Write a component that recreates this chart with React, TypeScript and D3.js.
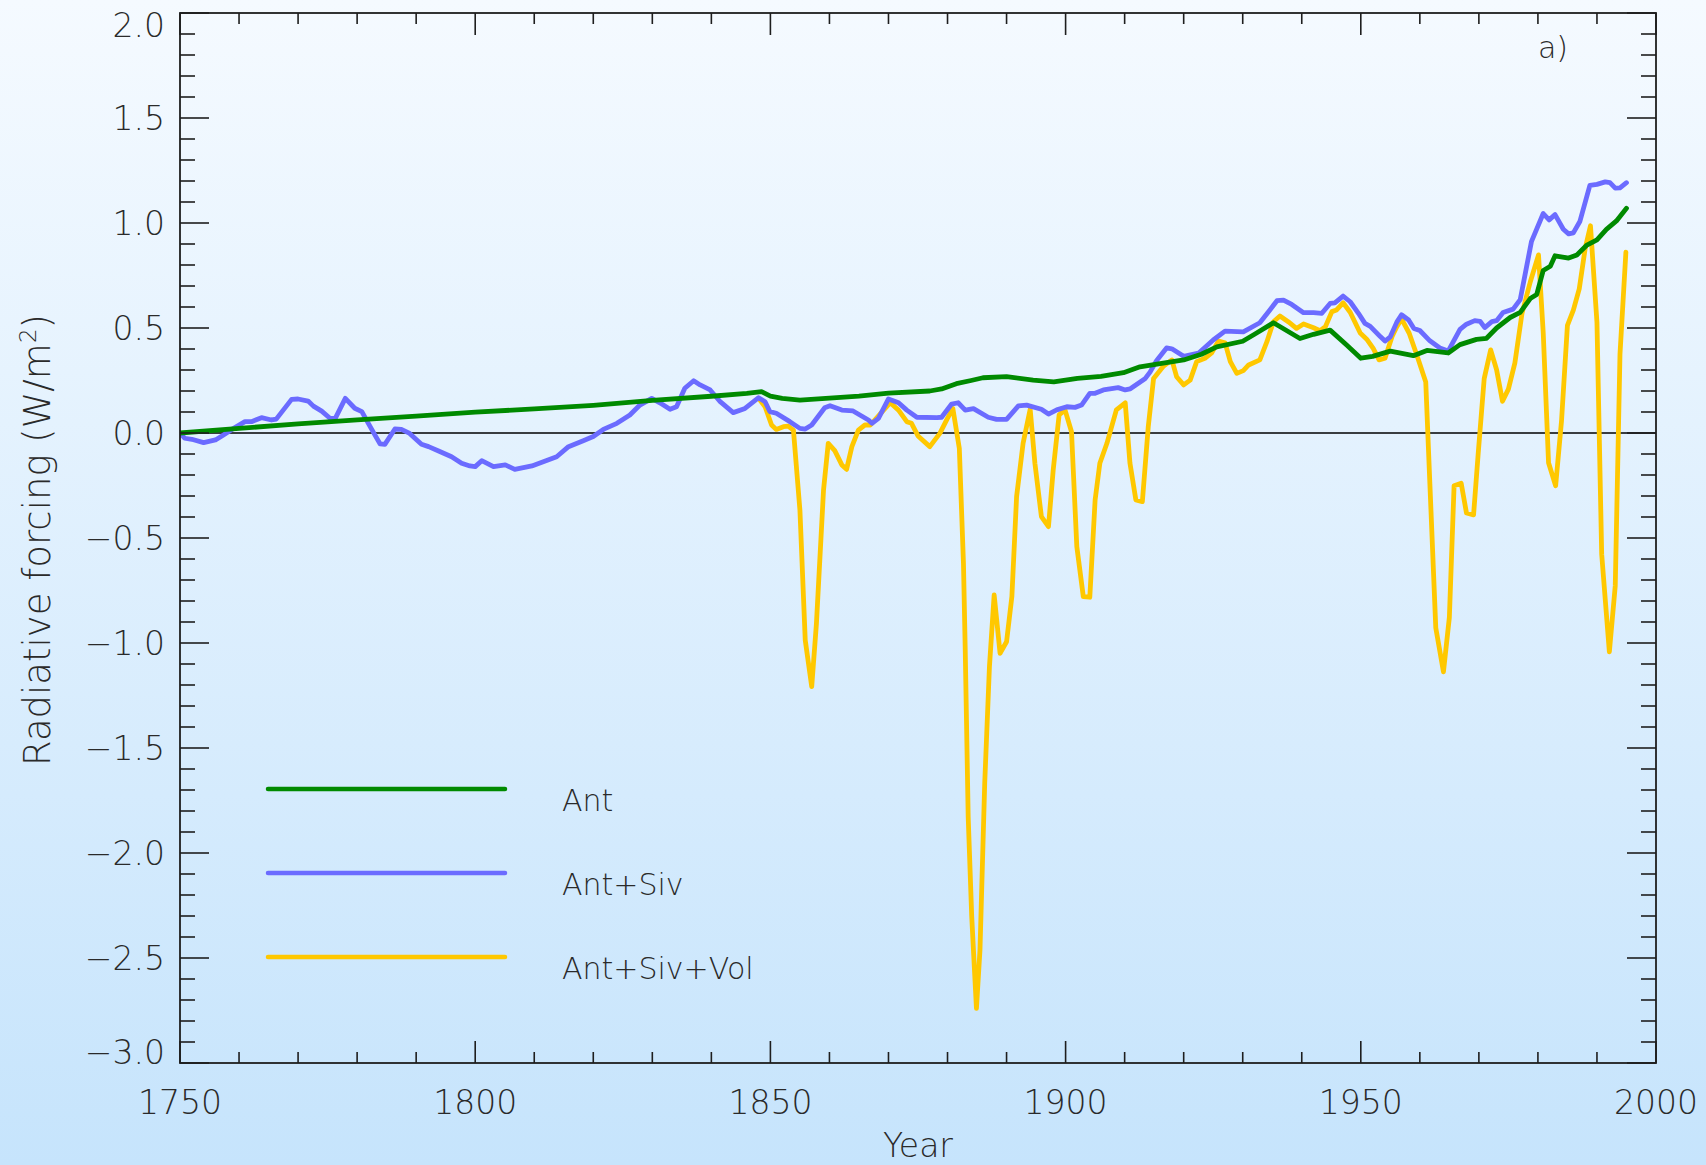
import React from "react";
import * as d3 from "d3";

// ---- Data ----
const antYears = [1750,1760,1770,1780,1790,1800,1810,1820,1830,1840,1846,1848.5,1850,1852,1855,1860,1865,1870,1877,1879,1881.5,1884,1886,1890,1894.5,1898,1902,1906,1909.8,1912.6,1916,1920,1923,1925.6,1930,1932,1935.2,1939.7,1942,1944.8,1947.6,1950,1952,1955,1958.9,1961.2,1964.8,1966.8,1969.6,1971.3,1973,1975.3,1977,1978.7,1979.8,1980.9,1982.1,1982.9,1985.2,1986.6,1988.3,1990,1991.6,1993.3,1995];
const antValues = [0.0,0.022,0.043,0.063,0.08,0.099,0.115,0.132,0.155,0.175,0.189,0.197,0.176,0.165,0.157,0.166,0.176,0.19,0.2,0.21,0.235,0.25,0.263,0.268,0.252,0.243,0.26,0.27,0.287,0.315,0.33,0.348,0.375,0.41,0.437,0.47,0.525,0.45,0.47,0.49,0.419,0.356,0.365,0.39,0.368,0.393,0.381,0.421,0.446,0.451,0.5,0.55,0.574,0.64,0.66,0.774,0.794,0.844,0.833,0.848,0.895,0.92,0.97,1.01,1.07];

const sivYears = [1750,1750.8,1752,1754,1756,1757.1,1758.8,1761,1762.1,1763.8,1765.5,1766.3,1768.9,1770,1771.7,1772.6,1774,1775.4,1776.3,1778,1779.6,1780.8,1781.9,1783,1783.9,1784.7,1786.4,1787.5,1788.9,1790.9,1792.1,1793.8,1796,1797.7,1799.1,1800,1801.1,1803.1,1805.1,1806.7,1809.6,1813.8,1815.8,1818.3,1820,1821.7,1824,1826.2,1827.9,1829.9,1831.6,1833,1834.1,1835.5,1837,1838.1,1839.8,1841.5,1843.7,1845.7,1848,1849.1,1849.9,1851,1853.3,1855,1855.9,1857,1859.2,1860.1,1862.1,1864,1866.6,1867.2,1868.3,1870,1871.7,1873.1,1874.8,1878.2,1879,1880.7,1881.8,1883,1884.4,1886.9,1888.3,1890,1892,1893.4,1895.9,1897.1,1898.5,1900.2,1901.6,1902.7,1904.1,1905,1906.4,1908.9,1910.1,1910.9,1913.5,1914.3,1915.4,1917.1,1918,1920,1922.5,1925,1927,1930.1,1932.9,1934.6,1935.8,1936.9,1938.3,1940.3,1942,1943.4,1944.8,1945.6,1947,1948.2,1949.6,1950.7,1951.6,1953.3,1954.1,1955,1956.1,1956.9,1958.1,1959,1960,1961.7,1963.4,1964.8,1966.8,1967.9,1969.3,1970.2,1971,1972.2,1973,1974.1,1975.8,1977,1978.9,1980.9,1981.9,1982.9,1984.3,1985.2,1986,1987.1,1988.8,1990,1991.4,1992.2,1993.1,1993.9,1995];
const sivValues = [0.0,-0.025,-0.03,-0.046,-0.033,-0.014,0.017,0.054,0.054,0.073,0.062,0.066,0.16,0.162,0.152,0.128,0.104,0.07,0.07,0.165,0.118,0.102,0.046,-0.009,-0.052,-0.054,0.019,0.017,-0.002,-0.054,-0.065,-0.086,-0.113,-0.144,-0.157,-0.16,-0.132,-0.16,-0.152,-0.173,-0.157,-0.113,-0.065,-0.037,-0.017,0.017,0.046,0.086,0.133,0.165,0.138,0.113,0.125,0.213,0.249,0.229,0.205,0.149,0.097,0.117,0.168,0.149,0.102,0.094,0.054,0.022,0.019,0.038,0.12,0.13,0.109,0.105,0.062,0.046,0.07,0.162,0.144,0.109,0.075,0.073,0.075,0.138,0.144,0.109,0.116,0.075,0.065,0.065,0.129,0.133,0.113,0.09,0.11,0.125,0.122,0.133,0.189,0.189,0.205,0.216,0.205,0.21,0.26,0.29,0.344,0.405,0.401,0.365,0.38,0.443,0.485,0.482,0.525,0.586,0.63,0.633,0.612,0.573,0.573,0.57,0.617,0.62,0.652,0.625,0.57,0.522,0.508,0.459,0.438,0.458,0.528,0.563,0.538,0.498,0.488,0.439,0.405,0.39,0.493,0.518,0.535,0.532,0.502,0.53,0.535,0.574,0.59,0.635,0.911,1.045,1.015,1.04,0.97,0.948,0.953,1.007,1.179,1.184,1.196,1.192,1.166,1.167,1.192];

const volYears = [1848,1849.1,1850.2,1851,1852.2,1853,1853.9,1855,1855.9,1857,1857.8,1859,1859.8,1860.9,1862.1,1862.9,1863.8,1864.9,1866,1866.9,1868.8,1870.3,1871.7,1873.1,1873.9,1875,1877,1878.7,1879.9,1880.9,1882,1882.7,1883,1883.5,1884.1,1884.9,1885.5,1886.3,1887.1,1887.9,1888.9,1890,1890.9,1891.7,1892.8,1894,1894.8,1895.9,1897.1,1897.9,1898.9,1899.9,1901,1901.9,1903,1904.1,1905,1905.8,1907,1908.6,1910.1,1910.9,1911.9,1913,1914,1914.9,1916.6,1918,1918.8,1920,1921.1,1922.2,1923.6,1924.7,1925.9,1927,1927.9,1929,1930.1,1931,1932.9,1934.1,1935.2,1936.3,1937.7,1939.1,1940.3,1942,1943.1,1944,1945.1,1945.9,1947,1948.2,1949.9,1951,1952.1,1953.1,1954.1,1955.3,1956.1,1956.9,1958.2,1959.5,1961,1961.7,1962.7,1964,1965,1965.8,1967,1967.9,1969.1,1969.9,1970.9,1972,1973,1974,1975,1976.1,1977.3,1978.7,1980.1,1980.9,1981.8,1983,1984,1985,1986,1987,1988,1988.9,1990,1990.8,1992.1,1993.1,1993.9,1994.9];
const volValues = [0.165,0.125,0.038,0.017,0.03,0.033,0.014,-0.367,-0.986,-1.208,-0.906,-0.271,-0.049,-0.084,-0.152,-0.173,-0.065,0.014,0.038,0.038,0.097,0.144,0.109,0.054,0.046,-0.014,-0.065,-0.002,0.065,0.117,-0.073,-0.621,-1.033,-1.827,-2.303,-2.74,-2.46,-1.668,-1.113,-0.771,-1.049,-0.994,-0.779,-0.303,-0.049,0.113,-0.144,-0.398,-0.446,-0.176,0.086,0.11,0.006,-0.541,-0.779,-0.782,-0.319,-0.144,-0.049,0.11,0.144,-0.144,-0.319,-0.327,0.03,0.26,0.319,0.348,0.268,0.229,0.252,0.34,0.356,0.38,0.438,0.43,0.34,0.284,0.297,0.324,0.348,0.435,0.53,0.557,0.53,0.498,0.519,0.501,0.487,0.506,0.578,0.586,0.62,0.575,0.476,0.447,0.403,0.348,0.356,0.46,0.506,0.543,0.475,0.37,0.243,-0.242,-0.928,-1.137,-0.878,-0.251,-0.239,-0.381,-0.39,-0.092,0.259,0.396,0.301,0.151,0.209,0.334,0.569,0.719,0.848,0.477,-0.142,-0.251,0.059,0.513,0.585,0.686,0.878,0.987,0.527,-0.577,-1.042,-0.727,0.376,0.861];

const seriesNames = ["Ant", "Ant+Siv", "Ant+Siv+Vol"];
const xMajorTicks = [1750, 1800, 1850, 1900, 1950, 2000];
const yMajorTicks = [2.0, 1.5, 1.0, 0.5, 0.0, -0.5, -1.0, -1.5, -2.0, -2.5, -3.0];

const W = 1706, H = 1165;
const L = 180, R = 1656, T = 13, B = 1063;

export default function App() {
  const x = d3.scaleLinear().domain([1750, 2000]).range([L, R]);
  const y = d3.scaleLinear().domain([-3, 2]).range([B, T]);

  const line = d3.line<[number, number]>().x(d => x(d[0])).y(d => y(d[1]));
  const ant = antYears.map((yr, i) => [yr, antValues[i]] as [number, number]);
  const siv = sivYears.map((yr, i) => [yr, sivValues[i]] as [number, number]);
  const vol = volYears.map((yr, i) => [yr, volValues[i]] as [number, number]);

  const xMinor = d3.range(1750, 2001, 10).filter(v => v % 50 !== 0);
  const yMinor = d3.range(-30, 21, 1).filter(v => v % 5 !== 0).map(v => v / 10);

  const colors = ["#008a00", "#6b6bff", "#ffc800"];
  const font = "'DejaVu Sans', sans-serif";
  const txt = "#2a2a2a";
  const ax = "#1e1e1e";

  const fmtY = (v: number) => (v < 0 ? "\u2212" : "") + Math.abs(v).toFixed(1);
  const yLabelPos = (v: number) => (v === 2 ? y(v) + 12 : v === -3 ? y(v) - 11 : y(v));

  const legendY = [789, 873, 957];

  return (
    <svg width={W} height={H} style={{ position: "absolute", left: 0, top: 0, display: "block" }}
      fontFamily={font} fontWeight={200}>
      <defs>
        <linearGradient id="bg" x1="0" y1="0" x2="0" y2="1">
          <stop offset="0" stopColor="#f5faff" />
          <stop offset="1" stopColor="#c6e4fc" />
        </linearGradient>
        <clipPath id="plot"><rect x={L} y={T} width={R - L} height={B - T} /></clipPath>
      </defs>
      <rect x={0} y={0} width={W} height={H} fill="url(#bg)" />

      {/* zero line */}
      <line x1={L} x2={R} y1={y(0)} y2={y(0)} stroke="#000" strokeWidth={1.4} />

      {/* series */}
      <g clipPath="url(#plot)" fill="none" strokeWidth={4.8} strokeLinejoin="round" strokeLinecap="round">
        <path d={line(vol) || ""} stroke={colors[2]} />
        <path d={line(siv) || ""} stroke={colors[1]} />
        <path d={line(ant) || ""} stroke={colors[0]} />
      </g>

      {/* frame */}
      <rect x={L} y={T} width={R - L} height={B - T} fill="none" stroke={ax} strokeWidth={1.8} />

      {/* ticks */}
      <g stroke={ax} strokeWidth={1.6}>
        {xMajorTicks.map(v => (
          <g key={"xm" + v}>
            <line x1={x(v)} x2={x(v)} y1={B} y2={B - 22} />
            <line x1={x(v)} x2={x(v)} y1={T} y2={T + 22} />
          </g>
        ))}
        {xMinor.map(v => (
          <g key={"xn" + v}>
            <line x1={x(v)} x2={x(v)} y1={B} y2={B - 11} />
            <line x1={x(v)} x2={x(v)} y1={T} y2={T + 11} />
          </g>
        ))}
        {yMajorTicks.map(v => (
          <g key={"ym" + v}>
            <line x1={L} x2={L + 29} y1={y(v)} y2={y(v)} />
            <line x1={R} x2={R - 29} y1={y(v)} y2={y(v)} />
          </g>
        ))}
        {yMinor.map(v => (
          <g key={"yn" + v}>
            <line x1={L} x2={L + 15} y1={y(v)} y2={y(v)} />
            <line x1={R} x2={R - 15} y1={y(v)} y2={y(v)} />
          </g>
        ))}
      </g>

      {/* tick labels */}
      <g fill={txt} fontSize={33}>
        {xMajorTicks.map(v => (
          <text key={"xl" + v} x={x(v)} y={1114} textAnchor="middle">{v}</text>
        ))}
        {yMajorTicks.map(v => (
          <text key={"yl" + v} x={165} y={yLabelPos(v) + 12} textAnchor="end">{fmtY(v)}</text>
        ))}
      </g>

      {/* axis titles */}
      <text x={(L + R) / 2} y={1157} textAnchor="middle" fontSize={33} fill={txt}>Year</text>
      <text transform="translate(50,540) rotate(-90)" textAnchor="middle" fontSize={37} fill={txt}>
        <tspan>Radiative forcing (W/m</tspan>
        <tspan dy={-14} fontSize={23}>2</tspan>
        <tspan dy={14}>)</tspan>
      </text>

      {/* panel label */}
      <text x={1553} y={58} textAnchor="middle" fontSize={30} fill={txt}>a)</text>

      {/* legend */}
      {seriesNames.map((name, i) => (
        <g key={name}>
          <line x1={268} x2={505} y1={legendY[i]} y2={legendY[i]} stroke={colors[i]} strokeWidth={4.5} strokeLinecap="round" />
          <text x={562} y={legendY[i] + 22} fontSize={30} fill={txt}>{name}</text>
        </g>
      ))}
    </svg>
  );
}
